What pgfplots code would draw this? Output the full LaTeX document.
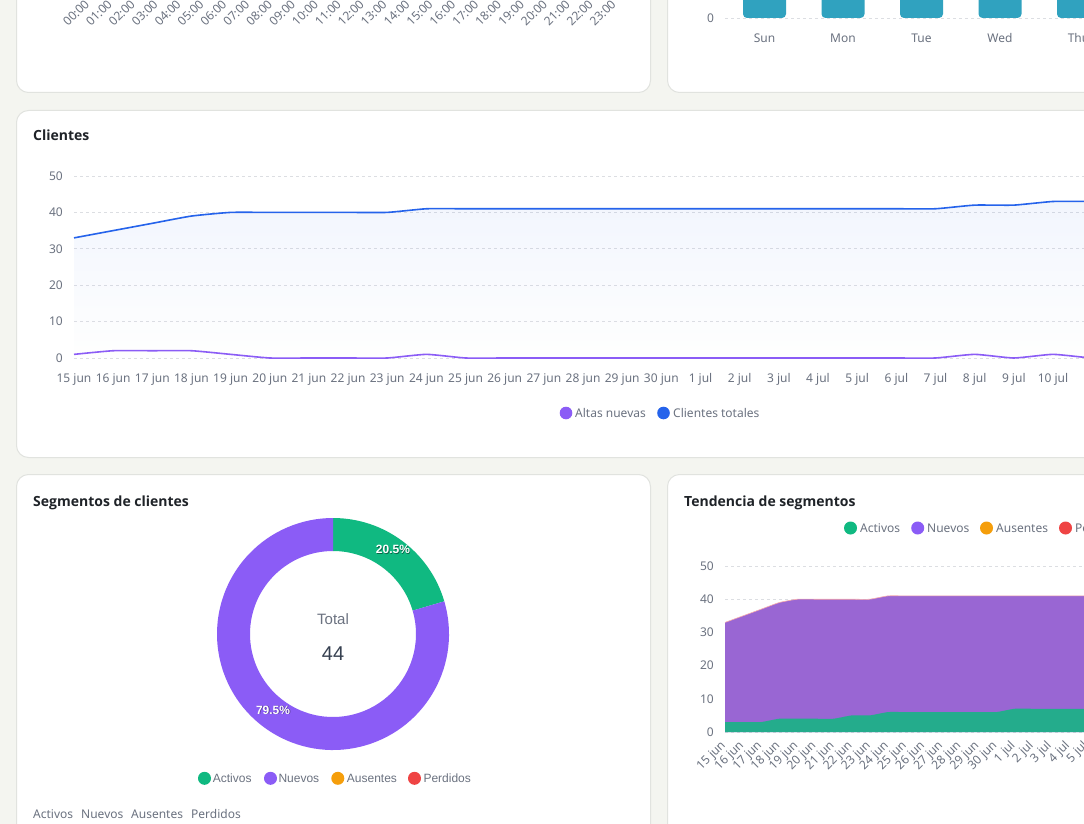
\documentclass[border=0pt]{standalone}
\usepackage{fontspec}
\setmainfont{Noto Sans}
\newfontfamily\arialfont{Liberation Sans}
\newfontfamily\titlefont{Open Sans}
\usepackage{pgfplots}
\usepackage{pgfplotstable}
\pgfplotsset{compat=1.18}

\definecolor{pagebg}{HTML}{F4F5F0}
\definecolor{cardborder}{HTML}{E1E3DF}
\definecolor{titlecol}{HTML}{1F2328}
\definecolor{tickcol}{HTML}{6B7280}
\definecolor{gridcol}{HTML}{DCDEE2}
\definecolor{cblue}{HTML}{2563EB}
\definecolor{cpurple}{HTML}{8B5CF6}
\definecolor{cgreen}{HTML}{10B981}
\definecolor{corange}{HTML}{F59E0B}
\definecolor{cred}{HTML}{EF4444}
\definecolor{barteal}{HTML}{30A2BF}
\definecolor{areagreen}{HTML}{24AC8C}
\definecolor{areapurple}{HTML}{9966D3}
\definecolor{centertext}{HTML}{374151}

\newcommand\fs[1]{\fontsize{#1}{#1}\selectfont}

% daily customers: new sign-ups and running total
\pgfplotstableread{
idx altas total
0 1 33
1 2 35
2 2 37
3 2 39
4 1 40
5 0 40
6 0 40
7 0 40
8 0 40
9 1 41
10 0 41
11 0 41
12 0 41
13 0 41
14 0 41
15 0 41
16 0 41
17 0 41
18 0 41
19 0 41
20 0 41
21 0 41
22 0 41
23 1 42
24 0 42
25 1 43
26 0 43
27 0 43
28 1 44
29 0 44
30 0 44
31 0 44
}\clientes

% daily segment sizes
\pgfplotstableread{
idx activos nuevos ausentes perdidos
0 3 30 0 0
1 3 32 0 0
2 3 34 0 0
3 4 35 0 0
4 4 36 0 0
5 4 36 0 0
6 4 36 0 0
7 5 35 0 0
8 5 35 0 0
9 6 35 0 0
10 6 35 0 0
11 6 35 0 0
12 6 35 0 0
13 6 35 0 0
14 6 35 0 0
15 6 35 0 0
16 7 34 0 0
17 7 34 0 0
18 7 34 0 0
19 7 34 0 0
20 7 34 0 0
21 7 34 0 0
22 7 34 0 0
23 7 35 0 0
24 8 34 0 0
25 8 35 0 0
26 8 35 0 0
27 8 35 0 0
28 9 35 0 0
29 9 35 0 0
30 9 35 0 0
31 9 35 0 0
}\segmentos

% current segment totals
\pgfplotstableread{
segmento valor
Activos 9
Nuevos 35
Ausentes 0
Perdidos 0
}\segtotales

\pgfplotsset{
  card axis/.style={
    scale only axis,
    axis line style={draw=none},
    tick style={draw=none},
    ymajorgrids,
    grid style={gridcol, line width=0.8pt, dash pattern=on 3pt off 3pt},
    tick label style={font=\fs{12}, text=tickcol},
    yticklabel style={anchor=east, inner sep=0pt, xshift=-11pt},
    /pgf/number format/assume math mode=true,
    clip=false,
  },
  flat xlabels/.style={xticklabel style={anchor=base, inner sep=0pt, yshift=-24.3pt}},
  slant xlabels/.style 2 args={xticklabel style={inner sep=0pt, xshift=#1, yshift=#2, anchor=east, rotate=45}},
}

\newcommand\pctlabel[1]{\pgfmathprintnumber[fixed, fixed zerofill, precision=1, assume math mode=true]{#1}\%}
\newcommand\cardtitle[2]{\node[anchor=base west, inner sep=0pt, font=\titlefont\bfseries\fs{14}, text=titlecol] at (#1) {#2};}

\begin{document}
\begin{tikzpicture}
\useasboundingbox (0,0) rectangle (1084pt,-824pt);
\clip (0,0) rectangle (1084pt,-824pt);
\fill[pagebg] (0,0) rectangle (1084pt,-824pt);

% cards
\begin{scope}[fill=white, draw=cardborder, line width=1pt, rounded corners=12pt]
  \filldraw (16.5pt,40pt) rectangle (650.5pt,-92.5pt);
  \filldraw (667.5pt,40pt) rectangle (1320pt,-92.5pt);
  \filldraw (16.5pt,-110.5pt) rectangle (1320pt,-457.5pt);
  \filldraw (16.5pt,-474.5pt) rectangle (650.5pt,-900pt);
  \filldraw (667.5pt,-474.5pt) rectangle (1320pt,-900pt);
\end{scope}

% hourly activity (axis labels)
\begin{axis}[card axis, slant xlabels={0pt}{0pt},
  at={(87pt,-2pt)}, anchor=south west, width=526.7pt, height=60pt,
  xmin=0, xmax=23, ymin=0, ymax=1, ymajorgrids=false, ytick=\empty,
  xtick={0,...,23},
  xticklabels={00:00,01:00,02:00,03:00,04:00,05:00,06:00,07:00,08:00,09:00,10:00,11:00,12:00,13:00,14:00,15:00,16:00,17:00,18:00,19:00,20:00,21:00,22:00,23:00},
]
\end{axis}

% activity by weekday
\begin{axis}[card axis, flat xlabels,
  at={(725.25pt,-18pt)}, anchor=south west, width=549.5pt, height=300pt,
  xmin=-0.5, xmax=6.5, ymin=0, ymax=12,
  xtick={0,...,6}, xticklabels={Sun,Mon,Tue,Wed,Thu,Fri,Sat},
  ytick={0,2,...,12},
]
\addplot[ybar, bar width=43pt, fill=barteal, draw=none, rounded corners=4pt]
  coordinates {(0,7) (1,9) (2,8) (3,8) (4,10) (5,9) (6,5)};
\end{axis}

% Clientes
\cardtitle{33pt,-141pt}{Clientes}
\begin{axis}[card axis, flat xlabels,
  at={(74pt,-358pt)}, anchor=south west, width=1213.96pt, height=182pt,
  xmin=0, xmax=31, ymin=0, ymax=50,
  ytick={0,10,...,50}, xtick={0,...,25},
  xticklabels={15 jun,16 jun,17 jun,18 jun,19 jun,20 jun,21 jun,22 jun,23 jun,24 jun,25 jun,26 jun,27 jun,28 jun,29 jun,30 jun,1 jul,2 jul,3 jul,4 jul,5 jul,6 jul,7 jul,8 jul,9 jul,10 jul},
]
\addplot[draw=none, top color=cblue, bottom color=white, fill opacity=0.06, smooth, tension=0.3]
  table[x=idx, y=total] {\clientes} \closedcycle;
\addplot[cpurple, line width=1.6pt, smooth, tension=0.3] table[x=idx, y=altas] {\clientes};
\addplot[cblue, line width=1.6pt, smooth, tension=0.3] table[x=idx, y=total] {\clientes};
\end{axis}
\fill[cpurple] (566pt,-413pt) circle (6.3pt);
\node[anchor=base west, inner sep=0pt, font=\fs{12}, text=tickcol] at (575pt,-417.5pt) {Altas nuevas};
\fill[cblue] (663.5pt,-413pt) circle (6.3pt);
\node[anchor=base west, inner sep=0pt, font=\fs{12}, text=tickcol] at (673pt,-417.5pt) {Clientes totales};

% Segmentos de clientes
\cardtitle{33pt,-506pt}{Segmentos de clientes}
\pgfplotstablegetelem{0}{valor}\of\segtotales \let\vAct\pgfplotsretval
\pgfplotstablegetelem{1}{valor}\of\segtotales \let\vNue\pgfplotsretval
\pgfplotstablegetelem{2}{valor}\of\segtotales \let\vAus\pgfplotsretval
\pgfplotstablegetelem{3}{valor}\of\segtotales \let\vPer\pgfplotsretval
\pgfmathsetmacro\vTot{\vAct+\vNue+\vAus+\vPer}
\pgfmathsetmacro\aAct{360*\vAct/\vTot}
\pgfmathsetmacro\aNue{360*\vNue/\vTot}
\pgfmathsetmacro\eA{90-\aAct}
\pgfmathsetmacro\eN{\eA-\aNue}
\pgfmathsetmacro\mA{90-\aAct/2}
\pgfmathsetmacro\mN{\eA-\aNue/2}
\pgfmathsetmacro\pAct{100*\vAct/\vTot}
\pgfmathsetmacro\pNue{100*\vNue/\vTot}
\begin{axis}[hide axis, scale only axis, width=240pt, height=240pt,
  xmin=-120, xmax=120, ymin=-120, ymax=120,
  at={(213pt,-754pt)}, anchor=south west, clip=false]
\fill[cgreen] (axis cs:0,0) ++(90:116pt) arc[start angle=90, end angle=\eA, radius=116pt]
  -- ([shift={(\eA:83pt)}]axis cs:0,0) arc[start angle=\eA, end angle=90, radius=83pt] -- cycle;
\fill[cpurple] ([shift={(\eA:116pt)}]axis cs:0,0) arc[start angle=\eA, end angle=\eN, radius=116pt]
  -- ([shift={(\eN:83pt)}]axis cs:0,0) arc[start angle=\eN, end angle=\eA, radius=83pt] -- cycle;
\node[anchor=base, inner sep=0pt, text=black, opacity=0.45, font=\arialfont\bfseries\fs{12}]
  at ([shift={(\mA:100pt)}, xshift=0.7pt, yshift=-0.8pt]axis cs:0,0) {\pctlabel{\pAct}};
\node[anchor=base, inner sep=0pt, text=white, font=\arialfont\bfseries\fs{12}]
  at ([shift={(\mA:100pt)}]axis cs:0,0) {\pctlabel{\pAct}};
\node[anchor=base, inner sep=0pt, text=black, opacity=0.45, font=\arialfont\bfseries\fs{12}]
  at ([shift={(\mN:100pt)}, xshift=0.7pt, yshift=-0.8pt]axis cs:0,0) {\pctlabel{\pNue}};
\node[anchor=base, inner sep=0pt, text=white, font=\arialfont\bfseries\fs{12}]
  at ([shift={(\mN:100pt)}]axis cs:0,0) {\pctlabel{\pNue}};
\node[anchor=base, inner sep=0pt, text=tickcol, font=\arialfont\fs{15}] at (axis cs:0,10) {Total};
\node[anchor=base, inner sep=0pt, text=centertext, font=\arialfont\fs{20}] at (axis cs:0,-26)
  {\pgfmathprintnumber[fixed, precision=0, assume math mode=true]{\vTot}};
\end{axis}
\foreach \cx/\tx/\col/\lab in {204.5/212.7/cgreen/Activos, 270.5/278.3/cpurple/Nuevos, 337.8/346.7/corange/Ausentes, 414.5/423.3/cred/Perdidos} {
  \fill[\col] (\cx pt,-778.3pt) circle (6.5pt);
  \node[anchor=base west, inner sep=0pt, font=\arialfont\fs{12}, text=tickcol] at (\tx pt,-782.5pt) {\lab};
}
\foreach \tx/\lab in {33/Activos, 81/Nuevos, 131/Ausentes, 191/Perdidos} {
  \node[anchor=base west, inner sep=0pt, font=\fs{12}, text=tickcol] at (\tx pt,-818.5pt) {\lab};
}

% Tendencia de segmentos
\cardtitle{684pt,-506pt}{Tendencia de segmentos}
\foreach \cx/\tx/\col/\lab in {850.5/860/cgreen/Activos, 917.7/927/cpurple/Nuevos, 986.5/996/corange/Ausentes, 1065.5/1075/cred/Perdidos} {
  \fill[\col] (\cx pt,-528pt) circle (6.5pt);
  \node[anchor=base west, inner sep=0pt, font=\fs{12}, text=tickcol] at (\tx pt,-532.5pt) {\lab};
}
\begin{axis}[card axis, slant xlabels={-1pt}{-12pt},
  at={(725pt,-732pt)}, anchor=south west, width=561.1pt, height=166pt,
  xmin=0, xmax=31, ymin=0, ymax=50,
  ytick={0,10,...,50}, xtick={0,...,31},
  xticklabels={15 jun,16 jun,17 jun,18 jun,19 jun,20 jun,21 jun,22 jun,23 jun,24 jun,25 jun,26 jun,27 jun,28 jun,29 jun,30 jun,1 jul,2 jul,3 jul,4 jul,5 jul,6 jul,7 jul,8 jul,9 jul,10 jul,11 jul,12 jul,13 jul,14 jul,15 jul,16 jul},
]
\addplot[draw=none, fill=areapurple, smooth, tension=0.3]
  table[x=idx, y expr=\thisrow{activos}+\thisrow{nuevos}+\thisrow{ausentes}+\thisrow{perdidos}] {\segmentos} \closedcycle;
\addplot[draw=none, fill=areagreen, smooth, tension=0.3]
  table[x=idx, y=activos] {\segmentos} \closedcycle;
\addplot[cred!45, line width=0.6pt, smooth, tension=0.3]
  table[x=idx, y expr=\thisrow{activos}+\thisrow{nuevos}+\thisrow{ausentes}+\thisrow{perdidos}] {\segmentos};
\end{axis}
\end{tikzpicture}
\end{document}
